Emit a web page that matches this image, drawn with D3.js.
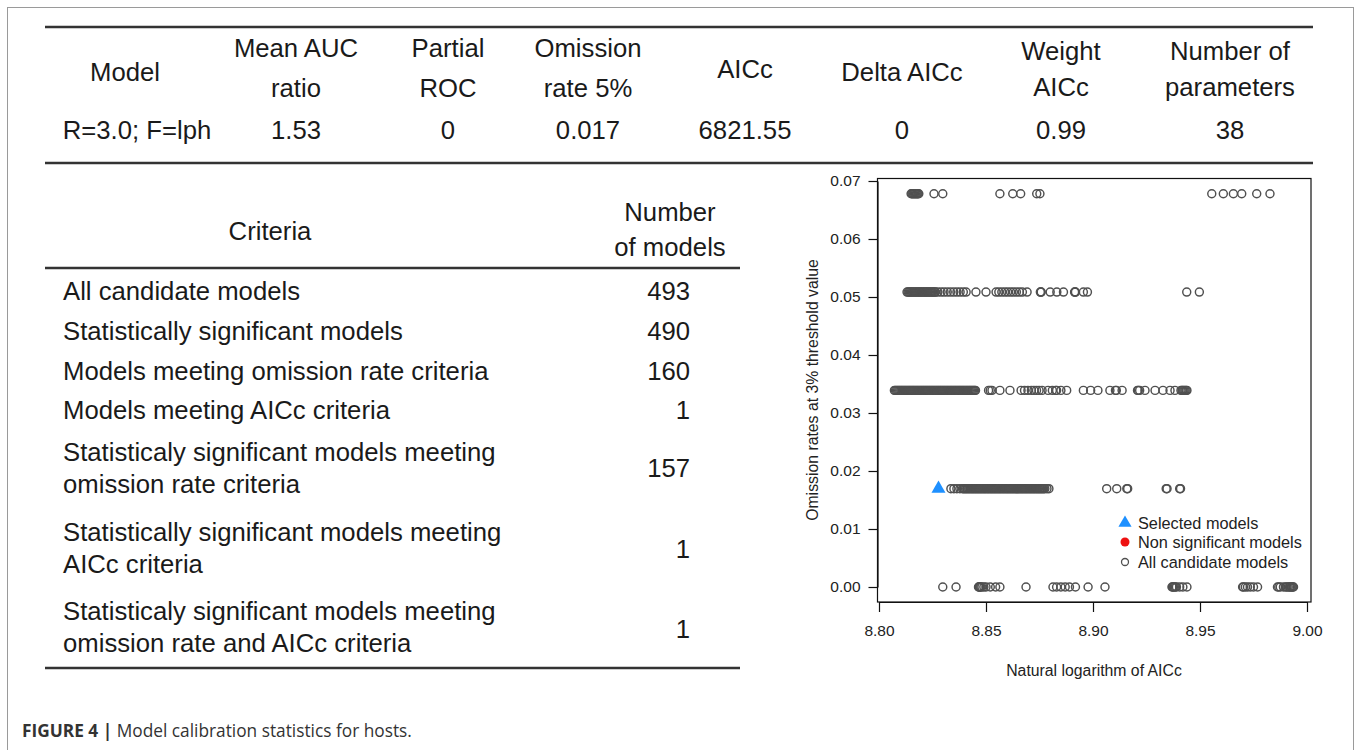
<!DOCTYPE html>
<html><head><meta charset="utf-8">
<script src="https://cdn.jsdelivr.net/npm/d3@7"></script>
<style>
html,body{margin:0;padding:0;background:#fff;}
svg{display:block;font-family:"Liberation Sans",Arial,sans-serif;}
</style></head>
<body>
<svg id="c" width="1357" height="750"></svg>
<script>
// ---------- Table data ----------
const topHeaders = [["Model"],["Mean AUC","ratio"],["Partial","ROC"],["Omission","rate 5%"],["AICc"],["Delta AICc"],["Weight","AICc"],["Number of","parameters"]];
const topValues = ["R=3.0; F=lph","1.53","0","0.017","6821.55","0","0.99","38"];
const criteriaLabels = [
  ["All candidate models"],
  ["Statistically significant models"],
  ["Models meeting omission rate criteria"],
  ["Models meeting AICc criteria"],
  ["Statisticaly significant models meeting","omission rate criteria"],
  ["Statistically significant models meeting","AICc criteria"],
  ["Statisticaly significant models meeting","omission rate and AICc criteria"]
];
const criteriaCounts = [493,490,160,1,157,1,1];

// ---------- Scatter data (ln AICc) per omission-rate level ----------
const omissionLevels = [0, 1/59, 2/59, 3/59, 4/59];
const lnAICc_0 = [8.8298,8.8360,8.8465,8.8467,8.8469,8.8472,8.8476,8.8481,8.8490,8.8500,8.8520,8.8545,8.8565,8.8687,
  8.8813,8.8830,8.8850,8.8870,8.8890,8.8918,8.8977,8.9056,
  8.9369,8.9372,8.9376,8.9380,8.9385,8.9390,8.9405,8.9420,8.9439,
  8.9699,8.9703,8.9712,8.9722,8.9735,8.9750,8.9769,
  8.9862,8.9868,8.9875,8.9890,8.9900,8.9906,8.9912,8.9918,8.9922,8.9926,8.9930,8.9934,8.9937];
const lnAICc_1 = [8.8336,8.8350,8.8364,8.8378,
  8.8390,8.8395,8.8400,8.8405,8.8410,8.8415,8.8420,8.8425,8.8430,8.8435,8.8440,8.8445,8.8450,8.8455,
  8.8460,8.8465,8.8470,8.8475,8.8480,8.8485,8.8490,8.8495,8.8500,8.8505,8.8510,8.8515,8.8520,8.8525,
  8.8530,8.8535,8.8540,8.8545,8.8550,8.8555,8.8560,8.8565,8.8570,8.8575,8.8580,8.8585,8.8590,8.8595,
  8.8600,8.8605,8.8610,8.8615,8.8620,8.8625,8.8630,8.8635,8.8640,8.8645,8.8650,8.8655,8.8660,8.8665,
  8.8670,8.8675,8.8680,8.8685,8.8690,8.8695,8.8700,8.8705,8.8710,8.8715,8.8720,8.8725,8.8730,8.8735,
  8.8740,8.8745,8.8750,8.8755,8.8760,8.8765,8.8770,8.8775,
  8.8785,8.8794,
  8.9064,8.9111,8.9158,8.9162,8.9342,8.9346,8.9405,8.9409];
const lnAICc_2 = [8.8072,8.8077,8.8082,8.8087,8.8092,8.8097,8.8102,8.8107,8.8112,8.8117,8.8122,8.8127,
  8.8132,8.8137,8.8142,8.8147,8.8152,8.8157,8.8162,8.8167,8.8172,8.8177,8.8182,8.8187,8.8192,8.8197,
  8.8202,8.8207,8.8212,8.8217,8.8222,8.8227,8.8232,8.8237,8.8242,8.8247,8.8252,8.8257,8.8262,8.8267,
  8.8272,8.8277,8.8282,8.8287,8.8292,8.8297,8.8302,8.8307,8.8312,8.8317,8.8322,8.8327,8.8332,8.8337,
  8.8342,8.8347,8.8352,8.8357,8.8362,8.8367,8.8372,8.8377,8.8382,8.8387,8.8392,8.8397,8.8402,8.8407,
  8.8412,8.8417,8.8422,8.8427,8.8432,8.8437,8.8442,8.8447,8.8451,
  8.8512,8.8520,8.8528,8.8565,8.8612,
  8.8664,8.8680,8.8696,8.8712,8.8724,8.8736,8.8748,8.8762,8.8790,8.8810,8.8826,8.8830,8.8850,8.8877,
  8.8955,8.8989,8.9023,8.9079,8.9105,8.9109,8.9136,
  8.9208,8.9212,8.9218,8.9243,8.9290,8.9327,8.9360,8.9383,8.9411,8.9416,8.9420,8.9425,8.9430,8.9435,8.9439];
const lnAICc_3 = [8.8131,8.8136,8.8141,8.8146,8.8151,8.8156,8.8161,8.8166,8.8171,8.8176,8.8181,8.8186,
  8.8191,8.8196,8.8201,8.8206,8.8211,8.8216,8.8221,8.8226,8.8231,8.8236,8.8241,8.8246,8.8251,8.8256,
  8.8261,8.8264,
  8.8275,8.8290,8.8304,8.8319,8.8334,8.8349,8.8364,8.8379,8.8394,8.8407,8.8453,8.8500,
  8.8547,8.8560,8.8574,8.8588,8.8601,8.8615,8.8628,8.8642,8.8656,8.8670,8.8692,
  8.8754,8.8756,8.8758,8.8800,8.8831,8.8862,8.8914,8.8916,8.8918,8.8955,8.8974,
  8.9438,8.9497];
const lnAICc_4 = [8.8150,8.8154,8.8158,8.8162,8.8166,8.8170,8.8174,8.8178,8.8182,8.8186,
  8.8257,8.8298,8.8565,8.8625,8.8662,8.8737,8.8752,
  8.9555,8.9609,8.9656,8.9695,8.9765,8.9827];
const selectedModel = [{x: 8.8278, y: 1/59}];
const nonSignificant = [];
const xTicks = [8.80, 8.85, 8.90, 8.95, 9.00];
const yTicks = [0, 0.01, 0.02, 0.03, 0.04, 0.05, 0.06, 0.07];
const legendItems = ["Selected models","Non significant models","All candidate models"];

// ---------- Drawing ----------
const svg = d3.select("#c");
const ink = "#1a1a1a";

// Outer frame
svg.append("rect").attr("x",7.5).attr("y",7.5).attr("width",1346).attr("height",800)
  .attr("fill","none").attr("stroke","#9a9a9a").attr("stroke-width",1);

// Top table
const rule = (x1,x2,y)=>svg.append("line").attr("x1",x1).attr("x2",x2).attr("y1",y).attr("y2",y)
  .attr("stroke","#333").attr("stroke-width",2.4);
rule(45,1313,27); rule(45,1313,163);
const colX = [137,296,448,588,745,902,1061,1230];
const FS = 25.7;
const hdr = svg.append("g").attr("font-size",FS).attr("fill",ink).attr("text-anchor","middle");
topHeaders.forEach((h,i)=>{
  if(h.length===1){
    hdr.append("text").attr("x",colX[i]-(i===0?12:0)).attr("y",i===4?78:81).text(h[0]);
  } else {
    hdr.append("text").attr("x",colX[i]).attr("y",i>=6?60:57).text(h[0]);
    hdr.append("text").attr("x",colX[i]).attr("y",i>=6?96:97).text(h[1]);
  }
});
topValues.forEach((v,i)=>hdr.append("text").attr("x",colX[i]).attr("y",139).text(v));

// Left table
rule(45,740,268); rule(45,740,668);
const lt = svg.append("g").attr("font-size",FS).attr("fill",ink);
lt.append("text").attr("x",270).attr("y",240).attr("text-anchor","middle").text("Criteria");
lt.append("text").attr("x",670).attr("y",221).attr("text-anchor","middle").text("Number");
lt.append("text").attr("x",670).attr("y",256).attr("text-anchor","middle").text("of models");
const rowBase = [300,340,380,419,461,541,620];
const countBase = [300,340,380,419,477,558,638];
criteriaLabels.forEach((lines,i)=>{
  lines.forEach((s,j)=>lt.append("text").attr("x",63).attr("y",rowBase[i]+j*31.5).text(s));
  lt.append("text").attr("x",690).attr("y",countBase[i]).attr("text-anchor","end").text(criteriaCounts[i]);
});

// Scatter plot
const x = d3.scaleLinear().domain([8.80,9.00]).range([879,1307]);
const y = d3.scaleLinear().domain([0,0.07]).range([587,181]);
const plot = svg.append("g");
const rows = [lnAICc_0,lnAICc_1,lnAICc_2,lnAICc_3,lnAICc_4];
const pts = [];
rows.forEach((arr,k)=>arr.forEach(v=>pts.push({x:v,y:omissionLevels[k]})));
plot.append("g").selectAll("circle").data(pts).join("circle")
  .attr("cx",d=>x(d.x)).attr("cy",d=>y(d.y)).attr("r",4)
  .attr("fill","none").attr("stroke","#505050").attr("stroke-width",1.45);
plot.append("g").selectAll("circle").data(nonSignificant).join("circle")
  .attr("cx",d=>x(d.x)).attr("cy",d=>y(d.y)).attr("r",4).attr("fill","#ee1111");
const tri = d3.symbol().type(d3.symbolTriangle).size(85);
plot.append("g").selectAll("path").data(selectedModel).join("path")
  .attr("d",tri).attr("transform",d=>`translate(${x(d.x)},${y(d.y)})`).attr("fill","#1e90ff");

// box
svg.append("rect").attr("x",877.5).attr("y",178.5).attr("width",433.5).attr("height",423.5)
  .attr("fill","none").attr("stroke","#111").attr("stroke-width",1.2);

const xa = svg.append("g").attr("transform","translate(0,602)")
  .call(d3.axisBottom(x).tickValues(xTicks).tickFormat(d3.format(".2f")).tickSize(10).tickSizeOuter(0).tickPadding(13));
const ya = svg.append("g").attr("transform","translate(877.5,0)")
  .call(d3.axisLeft(y).tickValues(yTicks).tickFormat(d3.format(".2f")).tickSize(9).tickSizeOuter(0).tickPadding(8));
[xa,ya].forEach(a=>{
  a.selectAll("path,line").attr("stroke","#111").attr("stroke-width",1.2);
  a.selectAll("text").attr("font-size",15.5).attr("fill","#222").attr("font-family","Liberation Sans,Arial,sans-serif");
});
svg.append("text").attr("x",1094).attr("y",676).attr("text-anchor","middle").attr("font-size",15.8).attr("fill","#222")
  .text("Natural logarithm of AICc");
svg.append("text").attr("transform","translate(818,390) rotate(-90)").attr("text-anchor","middle")
  .attr("font-size",15.8).attr("fill","#222").text("Omission rates at 3% threshold value");

// legend
const lg = svg.append("g").attr("font-size",16.3).attr("fill","#222");
const ly = [523,542,562];
lg.append("path").attr("d",d3.symbol().type(d3.symbolTriangle).size(75)).attr("transform",`translate(1125,${ly[0]})`).attr("fill","#1e90ff");
lg.append("circle").attr("cx",1125).attr("cy",ly[1]).attr("r",4.5).attr("fill","#ee1111");
lg.append("circle").attr("cx",1125).attr("cy",ly[2]).attr("r",3.5).attr("fill","none").attr("stroke","#505050").attr("stroke-width",1.3);
legendItems.forEach((t,i)=>lg.append("text").attr("x",1138).attr("y",ly[i]+5.5).text(t));

// caption
const cap = svg.append("text").attr("x",22).attr("y",737).attr("font-size",17.3).attr("fill","#333")
  .attr("font-family","'Open Sans','Liberation Sans',sans-serif");
cap.append("tspan").attr("font-weight","bold").text("FIGURE 4 | ");
cap.append("tspan").text("Model calibration statistics for hosts.");
</script>
</body></html>
